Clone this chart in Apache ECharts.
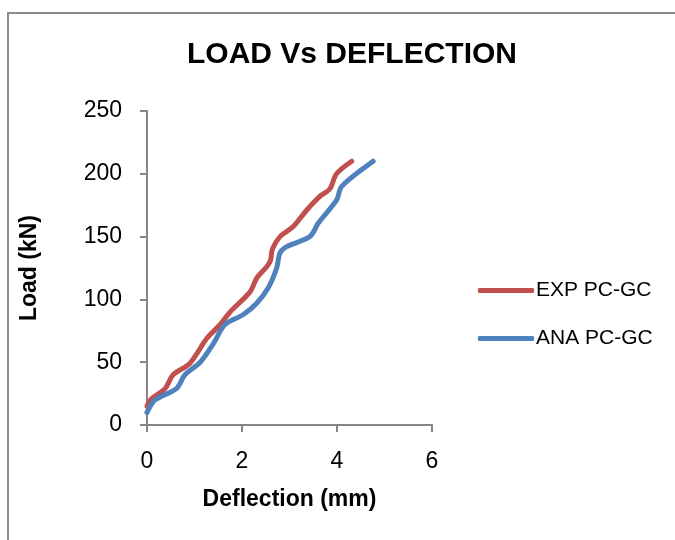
<!DOCTYPE html>
<html>
<head>
<meta charset="utf-8">
<script src="https://cdn.jsdelivr.net/npm/echarts@6/dist/echarts.min.js"></script>
<style>
html,body{margin:0;padding:0;background:#fff;}
#chart{width:675px;height:540px;}
</style>
</head>
<body>
<div id="chart"></div>
<script>
// Data
const expDeflection = [0, 0.1, 0.38, 0.55, 0.9, 1.26, 1.54, 1.75, 2.17, 2.31, 2.52, 2.6, 2.64, 2.8, 3.08, 3.36, 3.64, 3.85, 3.99, 4.31];
const expLoad       = [15, 21, 29, 40, 49, 69, 80, 90, 106, 117, 126, 131, 140, 150, 158, 171, 182, 188, 200, 210];
const anaDeflection = [0, 0.17, 0.62, 0.8, 1.12, 1.4, 1.64, 2.03, 2.31, 2.55, 2.73, 2.8, 2.94, 3.43, 3.61, 3.99, 4.1, 4.76];
const anaLoad       = [10, 20, 29, 40, 50, 65, 80, 88, 97, 109, 125, 137, 142, 150, 161, 179, 190, 210];
const seriesNames = ['EXP PC-GC', 'ANA PC-GC'];
const titleText = 'LOAD Vs DEFLECTION';
const xName = 'Deflection (mm)';
const yName = 'Load (kN)';

const FONT = '"Liberation Sans Narrow", "Arial Narrow", "Liberation Sans", Arial, sans-serif';
const zip = (a, b) => a.map((v, i) => [v, b[i]]);

const chart = echarts.init(document.getElementById('chart'), null, {renderer: 'canvas'});
chart.setOption({
  backgroundColor: '#fff',
  animation: false,
  title: {
    text: titleText,
    left: 347, top: 35, textAlign: 'center',
    textStyle: {fontFamily: FONT, fontWeight: 'bold', fontSize: 30, color: '#000'}
  },
  grid: {left: 147, top: 111, right: 243, bottom: 115},
  legend: {
    orient: 'vertical',
    left: 478, top: 280,
    padding: 0,
    itemGap: 27,
    itemWidth: 56, itemHeight: 5,
    icon: 'roundRect',
    textStyle: {fontFamily: FONT, fontSize: 21, color: '#000', padding: [0,0,0,-3]},
    data: seriesNames
  },
  xAxis: {
    type: 'value', min: 0, max: 6, interval: 2,
    name: xName, nameLocation: 'middle', nameGap: 63,
    nameTextStyle: {fontFamily: FONT, fontWeight: 'bold', fontSize: 23, color: '#000'},
    axisLine: {show: true, lineStyle: {color: '#868686', width: 2}},
    axisTick: {show: true, inside: false, length: 7, lineStyle: {color: '#868686', width: 2}},
    axisLabel: {fontFamily: FONT, fontSize: 23, color: '#000', margin: 25},
    splitLine: {show: false}
  },
  yAxis: {
    type: 'value', min: 0, max: 250, interval: 50,
    name: yName, nameLocation: 'middle', nameGap: 106, nameRotate: 90,
    nameTextStyle: {fontFamily: FONT, fontWeight: 'bold', fontSize: 23, color: '#000'},
    axisLine: {show: true, lineStyle: {color: '#868686', width: 2}},
    axisTick: {show: true, inside: false, length: 7, lineStyle: {color: '#868686', width: 2}},
    axisLabel: {fontFamily: FONT, fontSize: 23, color: '#000', margin: 25},
    splitLine: {show: false}
  },
  series: [
    {name: seriesNames[0], type: 'line', data: zip(expDeflection, expLoad), smooth: 0.3,
     symbol: 'none', lineStyle: {color: '#C0504D', width: 5, cap: 'round'}, itemStyle: {color: '#C0504D'}},
    {name: seriesNames[1], type: 'line', data: zip(anaDeflection, anaLoad), smooth: 0.3,
     symbol: 'none', lineStyle: {color: '#4F81BD', width: 5, cap: 'round'}, itemStyle: {color: '#4F81BD'}}
  ],
  graphic: [
    {type: 'polyline', shape: {points: [[8, 541], [8, 13], [677, 13]]}, style: {stroke: '#8c8c8c', lineWidth: 2, fill: null}, silent: true}
  ]
});
</script>
</body>
</html>
